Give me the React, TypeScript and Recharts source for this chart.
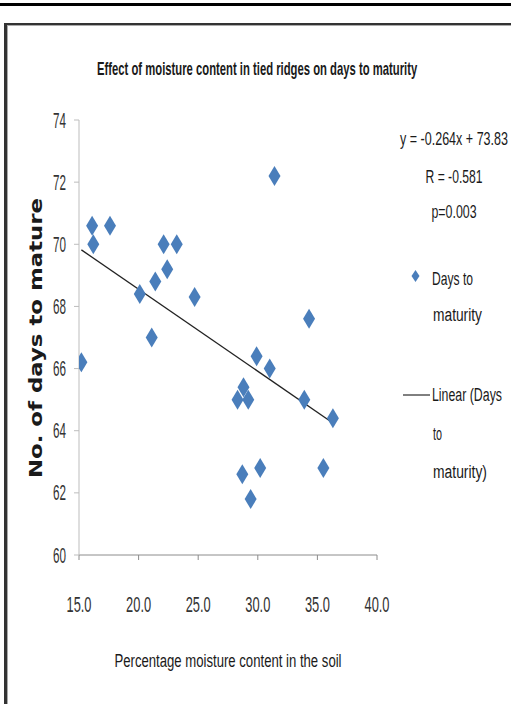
import React, { useLayoutEffect, useRef, useState } from "react";
import { ScatterChart, Scatter, XAxis, YAxis, ReferenceLine } from "recharts";

// moisture (%) vs days to maturity
const moisture = [15.2, 16.1, 16.2, 17.6, 20.1, 21.1, 21.4, 22.1, 22.4, 23.2, 24.7, 28.3, 28.8, 29.2, 28.7, 29.4, 30.2, 29.9, 31.0, 31.4, 33.9, 34.3, 35.5, 36.3];
const days = [66.2, 70.6, 70.0, 70.6, 68.4, 67.0, 68.8, 70.0, 69.2, 70.0, 68.3, 65.0, 65.4, 65.0, 62.6, 61.8, 62.8, 66.4, 66.0, 72.2, 65.0, 67.6, 62.8, 64.4];

const trendX = [15.2, 36.3];
const trendY = [69.82, 64.25];

const xTicks = [15, 20, 25, 30, 35, 40];
const yTicks = [60, 62, 64, 66, 68, 70, 72, 74];

const statLines = ["y = -0.264x + 73.83", "R = -0.581", "p=0.003"];

const points = moisture.map((x, i) => ({ x, y: days[i] }));

const NARROW = "'Liberation Sans', Arial, sans-serif";

const Diamond = (props: any) => {
  const { cx, cy } = props;
  return <path d={`M${cx},${cy - 10}L${cx + 6},${cy}L${cx},${cy + 10}L${cx - 6},${cy}Z`} fill="#4a7ebb" />;
};

const YTick = (props: any) => {
  const { x, y, payload } = props;
  return (
    <text x={x} y={y} textAnchor="end" dominantBaseline="central" fontFamily={NARROW} fontSize={22} fill="#333"
      textLength={13} lengthAdjust="spacingAndGlyphs">
      {payload.value}
    </text>
  );
};

const XTick = (props: any) => {
  const { x, y, payload } = props;
  return (
    <text x={x} y={y} textAnchor="middle" dominantBaseline="central" fontFamily={NARROW} fontSize={22} fill="#333"
      textLength={25} lengthAdjust="spacingAndGlyphs">
      {Number(payload.value).toFixed(1)}
    </text>
  );
};

// squeezes a text horizontally so it is w pixels wide (narrow Calibri look)
const FitText = ({ x, y, w, size = 18, anchor = "start", weight = 400, family = NARROW, rotate = 0, children }: any) => {
  const ref = useRef<SVGTextElement>(null);
  const [s, setS] = useState(0.6);
  useLayoutEffect(() => {
    if (ref.current) {
      const n = ref.current.getComputedTextLength();
      if (n > 0) setS(w / n);
    }
  }, [w, size]);
  return (
    <text ref={ref} transform={`translate(${x},${y}) rotate(${rotate}) scale(${s},1)`} textAnchor={anchor}
      fontFamily={family} fontSize={size} fontWeight={weight} fill="#1a1a1a">
      {children}
    </text>
  );
};

export default function App() {
  return (
    <div style={{ position: "absolute", left: 0, top: 0, width: 511, height: 704, overflow: "hidden", background: "#fff" }}>
      <div style={{ position: "absolute", left: 0, top: 3, width: 511, height: 3, background: "#000" }} />
      <div style={{ position: "absolute", left: 4, top: 23, width: 540, height: 720, borderLeft: "3px solid #333", borderTop: "2px solid #333", boxShadow: "inset 1px 1px 0 #aaa" }} />

      <div style={{ position: "absolute", left: 0, top: 0 }}>
        <ScatterChart width={511} height={704} margin={{ top: 120, right: 134, bottom: 119, left: 49 }}>
          <XAxis type="number" dataKey="x" domain={[15, 40]} ticks={xTicks} stroke="#8c8c8c" tickSize={5} tickMargin={44}
            tick={<XTick />} height={30} allowDataOverflow />
          <YAxis type="number" dataKey="y" domain={[60, 74]} ticks={yTicks} stroke="#bdbdbd" tickSize={5} tickMargin={8}
            tick={<YTick />} width={30} allowDataOverflow />
          <Scatter data={points} shape={<Diamond />} isAnimationActive={false} />
          <ReferenceLine segment={[{ x: trendX[0], y: trendY[0] }, { x: trendX[1], y: trendY[1] }]} stroke="#222" strokeWidth={1.3} />
        </ScatterChart>
      </div>

      <svg width={511} height={704} style={{ position: "absolute", left: 0, top: 0, pointerEvents: "none" }}>
        <FitText x={97} y={75} w={320} size={18} weight={700}>Effect of moisture content in tied ridges on days to  maturity</FitText>
        <FitText x={228} y={667} w={227} size={19} anchor="middle">Percentage moisture content in the soil</FitText>
        <FitText x={42} y={338} w={280} size={17} rotate={-90} anchor="middle" weight={700} family="'DejaVu Sans', sans-serif">
          No. of days to mature
        </FitText>

        <FitText x={454} y={145} w={108} size={18} anchor="middle">{statLines[0]}</FitText>
        <FitText x={454} y={183} w={57} size={18} anchor="middle">{statLines[1]}</FitText>
        <FitText x={454} y={218} w={45} size={18} anchor="middle">{statLines[2]}</FitText>

        <path d="M415.5,270L419.5,276L415.5,282L411.5,276Z" fill="#4a7ebb" />
        <FitText x={432} y={285} w={41} size={19}>Days to</FitText>
        <FitText x={433} y={321} w={49} size={19}>maturity</FitText>

        <line x1={403} x2={430} y1={395} y2={395} stroke="#000" strokeWidth={1} />
        <FitText x={432} y={401} w={70} size={19}>Linear (Days</FitText>
        <FitText x={433} y={440} w={9} size={19}>to</FitText>
        <FitText x={433} y={478} w={54} size={19}>maturity)</FitText>
      </svg>
    </div>
  );
}
